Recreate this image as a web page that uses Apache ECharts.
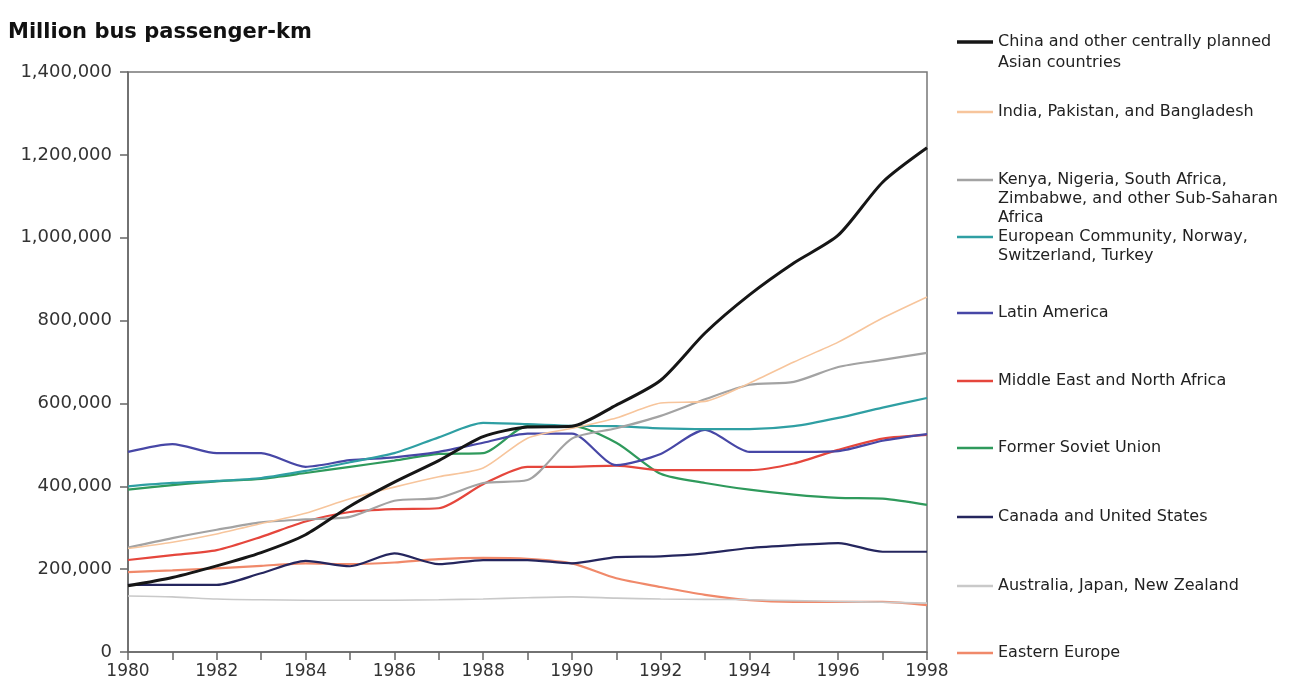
<!DOCTYPE html>
<html>
<head>
<meta charset="utf-8">
<script src="https://cdn.jsdelivr.net/npm/echarts@6/dist/echarts.min.js"></script>
<style>
html,body{margin:0;padding:0;background:#fff;}
#chart{width:1305px;height:695px;}
</style>
</head>
<body>
<div id="chart"></div>
<script>
const years = ['1980','1981','1982','1983','1984','1985','1986','1987','1988','1989','1990','1991','1992','1993','1994','1995','1996','1997','1998'];

const china = [160000,180000,208000,240000,283000,352000,410000,462000,520000,543000,545000,596000,656000,770000,862000,939000,1006000,1134000,1217000];
const india = [250000,265000,285000,310000,335000,370000,398000,423000,444000,516000,540000,565000,601000,605000,649000,700000,748000,806000,857000];
const kenya = [252000,275000,295000,313000,320000,326000,365000,372000,408000,415000,515000,540000,570000,610000,645000,652000,688000,705000,722000];
const europeanCommunity = [400000,408000,413000,420000,437000,458000,480000,518000,553000,550000,546000,545000,540000,538000,538000,545000,565000,590000,613000];
const latinAmerica = [483000,502000,480000,480000,447000,463000,470000,483000,505000,527000,527000,451000,478000,536000,483000,483000,485000,510000,526000];
const middleEast = [222000,234000,246000,278000,315000,338000,345000,347000,405000,447000,447000,450000,439000,439000,439000,455000,488000,515000,524000];
const formerSoviet = [392000,403000,412000,418000,432000,447000,462000,478000,480000,545000,545000,505000,430000,408000,392000,380000,372000,370000,355000];
const canadaUS = [162000,162000,162000,190000,220000,207000,238000,212000,222000,222000,214000,229000,231000,238000,251000,258000,263000,242000,242000];
const australiaJapanNZ = [135000,133000,128000,126000,125000,125000,125000,126000,128000,131000,133000,130000,128000,127000,126000,124000,122000,120000,118000];
const easternEurope = [193000,197000,202000,208000,214000,212000,216000,224000,227000,225000,214000,178000,157000,138000,125000,121000,121000,121000,113000];

const seriesNames = [
  'China and other centrally planned\nAsian countries',
  'India, Pakistan, and Bangladesh',
  'Kenya, Nigeria, South Africa,\nZimbabwe, and other Sub-Saharan\nAfrica',
  'European Community, Norway,\nSwitzerland, Turkey',
  'Latin America',
  'Middle East and North Africa',
  'Former Soviet Union',
  'Canada and United States',
  'Australia, Japan, New Zealand',
  'Eastern Europe'
];
const seriesData = [china, india, kenya, europeanCommunity, latinAmerica, middleEast, formerSoviet, canadaUS, australiaJapanNZ, easternEurope];
const yTicks = [0,200000,400000,600000,800000,1000000,1200000,1400000];

// styles / layout
const colors = ['#161616','#f7c59c','#a3a3a3','#2f9fa3','#4747a6','#e5463c','#2f9a5c','#25265e','#c9c9c9','#f0896a'];
const widths = [3,1.6,2.2,2.2,2.2,2.2,2.2,2.2,1.6,2.2];
const legendY = [42,112,180,237,313,381,448,517,586,653];
const FONT = 'DejaVu Sans';
const LH = 20;

const chart = echarts.init(document.getElementById('chart'), null, {renderer:'canvas'});

const series = seriesNames.map((n,i)=>({
  name:n, type:'line', data:seriesData[i], symbol:'none', smooth:0.25,
  lineStyle:{color:colors[i], width:widths[i]}, itemStyle:{color:colors[i]},
  z: 10 - i
}));

const legends = seriesNames.map((n,i)=>({
  data:[n], orient:'vertical', left:957, top:legendY[i]-LH/2, padding:0,
  icon:'rect', itemWidth:36, itemHeight:(i===0?3.5:2.5), selectedMode:false,
  formatter: s => s.split('\n')[0],
  textStyle:{fontFamily:FONT, fontSize:16, color:'#222', lineHeight:LH}
}));

const graphics = [];
seriesNames.forEach((n,i)=>{
  const parts = n.split('\n');
  if (parts.length > 1) {
    graphics.push({type:'text', left:998, top:legendY[i]+LH/2 + (i===0?1:-1),
      style:{text:parts.slice(1).join('\n'), font:'16px "'+FONT+'"', fill:'#222', lineHeight:LH-1}});
  }
});

chart.setOption({
  animation:false,
  backgroundColor:'#fff',
  title:{text:'Million bus passenger-km', left:8, top:22, padding:0,
    textStyle:{fontFamily:FONT, fontSize:21, fontWeight:'bold', color:'#111'}},
  legend: legends,
  graphic: graphics,
  grid:{left:128, right:378, top:72, bottom:43, show:true, borderColor:'#777', borderWidth:1.5, backgroundColor:'transparent'},
  xAxis:{type:'category', data:years, boundaryGap:false,
    axisLine:{lineStyle:{color:'#666', width:1.5}},
    axisTick:{show:true, interval:0, length:8, lineStyle:{color:'#666', width:1.5}},
    axisLabel:{interval:1, margin:11, fontFamily:FONT, fontSize:17, color:'#333'},
    splitLine:{show:false}},
  yAxis:{type:'value', min:yTicks[0], max:yTicks[yTicks.length-1], interval:yTicks[1]-yTicks[0],
    axisLine:{show:true, lineStyle:{color:'#666', width:1.5}},
    axisTick:{show:true, length:8, lineStyle:{color:'#666', width:1.5}},
    axisLabel:{margin:16, fontFamily:FONT, fontSize:18, color:'#333',
      formatter: v => v.toLocaleString('en-US')},
    splitLine:{show:false}},
  series: series
});
</script>
</body>
</html>
